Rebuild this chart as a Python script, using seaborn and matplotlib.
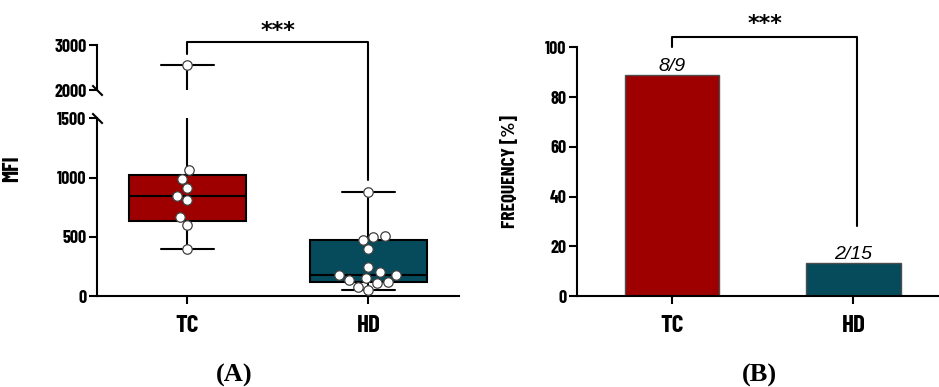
import numpy as np
import pandas as pd
import matplotlib
matplotlib.use("Agg")
import matplotlib.pyplot as plt
import seaborn as sns

# values
groups = ["TC", "HD"]
tc_mfi = [2550, 1063, 990, 910, 846, 812, 664, 598, 396]
hd_mfi = [877, 510, 499, 473, 396, 245, 199, 179, 179, 151, 137, 120, 114, 80, 51]
positive = [8, 2]
total = [9, 15]
low_ticks = [0, 500, 1000, 1500]
high_ticks = [2000, 3000]
freq_ticks = [0, 20, 40, 60, 80, 100]
colors = ["#9E0000", "#054B5C"]

sns.set_theme(style="ticks")
plt.rcParams["font.family"] = ["Barlow Condensed", "DejaVu Sans"]
plt.rcParams["font.weight"] = "bold"
plt.rcParams["axes.linewidth"] = 1.5
for key in ["axes.edgecolor", "xtick.color", "ytick.color", "text.color", "axes.labelcolor"]:
    plt.rcParams[key] = "black"

df = pd.DataFrame({
    "group": ["TC"] * len(tc_mfi) + ["HD"] * len(hd_mfi),
    "mfi": tc_mfi + hd_mfi,
})
freq = [100 * p / t for p, t in zip(positive, total)]

fig = plt.figure(figsize=(9.39, 3.87), dpi=100)
ax_lo = fig.add_axes([0.1033, 0.2351, 0.3855, 0.4587])
ax_hi = fig.add_axes([0.1033, 0.7674, 0.3855, 0.1163])
ax_b = fig.add_axes([0.6145, 0.2351, 0.3845, 0.6426])


# Prism-style quartiles
def box_stats(vals):
    v = np.asarray(vals, float)
    q1, med, q3 = np.percentile(v, [25, 50, 75], method="weibull")
    return dict(med=med, q1=q1, q3=q3, whislo=v.min(), whishi=v.max(), fliers=[])


stats = [box_stats(tc_mfi), box_stats(hd_mfi)]
line_kw = dict(color="black", linewidth=1.5)

# ---- panel A: broken-axis box plot ----
for ax in (ax_lo, ax_hi):
    bp = ax.bxp(stats, positions=[0, 1], widths=0.65, capwidths=0.29,
                patch_artist=True, showfliers=False, manage_ticks=False,
                boxprops=dict(linewidth=1.5, edgecolor="black"),
                medianprops=line_kw, whiskerprops=line_kw, capprops=line_kw)
    for patch, c in zip(bp["boxes"], colors):
        patch.set_facecolor(c)
    sns.swarmplot(data=df, x="group", y="mfi", order=groups, ax=ax,
                  color="white", edgecolor="0.25", linewidth=0.9, size=6.8, zorder=3)
    ax.set_xlim(-0.5, 1.5)
    ax.set_xlabel("")
    ax.set_ylabel("")
    ax.spines[["top", "right"]].set_visible(False)
    ax.tick_params(axis="both", direction="out", length=5.5, width=1.5)
    ax.tick_params(axis="y", labelsize=13, pad=2)

ax_lo.set_ylim(0, 1500)
ax_lo.set_yticks(low_ticks)
ax_lo.set_xticks([0, 1])
ax_lo.set_xticklabels(groups)
ax_lo.tick_params(axis="x", labelsize=18, pad=8)
ax_lo.set_ylabel("MFI", fontsize=16, fontweight="bold")
ax_lo.yaxis.set_label_coords(-0.207, 0.716)

ax_hi.set_ylim(2000, 3000)
ax_hi.set_yticks(high_ticks)
ax_hi.spines["bottom"].set_visible(False)
ax_hi.set_xticks([])

# break marks on the y axis
brk = dict(marker=[(-1, 1), (1, -1)], markersize=7.5, mew=1.5, color="black", clip_on=False)
ax_hi.plot([0], [0], transform=ax_hi.transAxes, **brk)
ax_lo.plot([0], [1], transform=ax_lo.transAxes, **brk)

# significance bracket (crosses the gap into the lower axes)
disp = ax_lo.transData.transform((1, 980))
y_leg = ax_hi.transData.inverted().transform(disp)[1]
ax_hi.plot([0, 0, 1, 1], [2800, 3067, 3067, y_leg], clip_on=False, **line_kw)
ax_hi.text(0.5, 3170, "***", ha="center", va="baseline", fontsize=16,
           fontweight="bold", family="DejaVu Sans")

# ---- panel B: frequency bars ----
sns.barplot(x=groups, y=freq, hue=groups, palette=colors, legend=False, order=groups,
            ax=ax_b, width=0.52, saturation=1, edgecolor="0.3", linewidth=1)
ax_b.set_ylim(0, 100)
ax_b.set_xlim(-0.523, 1.466)
ax_b.set_yticks(freq_ticks)
ax_b.spines[["top", "right"]].set_visible(False)
ax_b.tick_params(axis="both", direction="out", length=5.5, width=1.5)
ax_b.tick_params(axis="y", labelsize=13, pad=2)
ax_b.tick_params(axis="x", labelsize=18, pad=8)
ax_b.set_ylabel("FREQUENCY [%]", fontsize=14, fontweight="bold")
ax_b.yaxis.set_label_coords(-0.161, 0.5)

for i, (p, t, f) in enumerate(zip(positive, total, freq)):
    ax_b.annotate(f"{p}/{t}", (i, f), xytext=(0, 2.5), textcoords="offset points",
                  ha="center", va="baseline", fontsize=14, fontstyle="italic",
                  fontweight="normal", family=["Liberation Sans", "DejaVu Sans"])

ax_b.plot([0, 0, 1.02, 1.02], [100.2, 104.3, 104.3, 28], clip_on=False, **line_kw)
ax_b.text(0.51, 106.8, "***", ha="center", va="baseline", fontsize=16,
          fontweight="bold", family="DejaVu Sans")

# panel letters
for x, s in [(234, "(A)"), (759, "(B)")]:
    fig.text(x / 939, 1 - 375 / 387, s, ha="center", va="center", fontsize=19,
             fontweight="bold", family=["Liberation Serif", "DejaVu Serif"])

fig.savefig("out.png", dpi=100)
